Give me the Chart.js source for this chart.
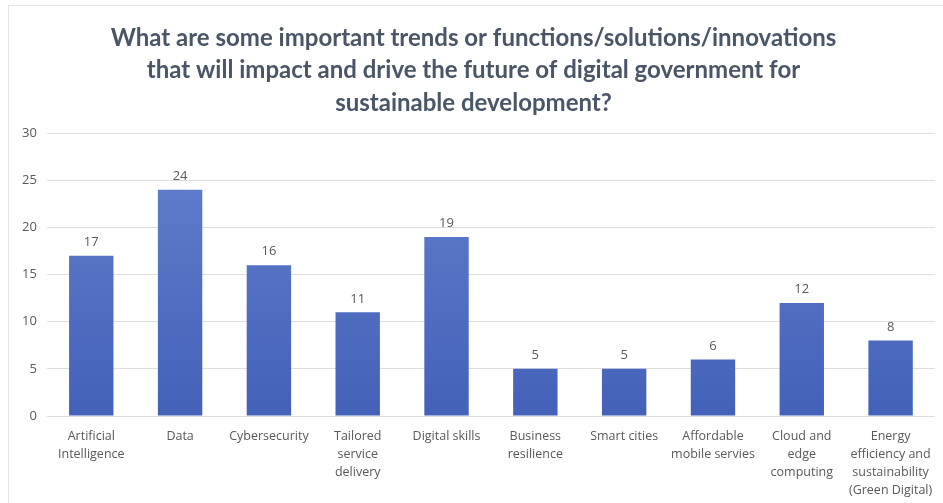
<!DOCTYPE html>
<html><head><meta charset="utf-8">
<script src="https://cdn.jsdelivr.net/npm/chart.js@4"></script>
<style>
html,body{margin:0;padding:0;background:#fff;}
#wrap{position:absolute;left:8px;top:5px;width:935px;height:498px;border-left:1px solid #e4e4e4;border-top:1px solid #e4e4e4;box-sizing:border-box;}
canvas{position:absolute;left:0;top:0;}
</style></head>
<body>
<div id="wrap"></div>
<canvas id="c" width="943" height="503"></canvas>
<script>
const titleLines = ["What are some important trends or functions/solutions/innovations","that will impact and drive the future of digital government for","sustainable development?"];
const categories = [["Artificial","Intelligence"],"Data","Cybersecurity",["Tailored","service","delivery"],"Digital skills",["Business","resilience"],"Smart cities",["Affordable","mobile servies"],["Cloud and","edge","computing"],["Energy","efficiency and","sustainability","(Green Digital)"]];
const values = [17,24,16,11,19,5,5,6,12,8];
const yTicks = [0,5,10,15,20,25,30];

const labelPlugin = {
  id:'vals',
  afterDatasetsDraw(chart){
    const ctx = chart.ctx;
    const meta = chart.getDatasetMeta(0);
    ctx.save();
    ctx.fillStyle = '#595959';
    ctx.font = '13px "Open Sans", sans-serif';
    ctx.textAlign = 'center';
    ctx.textBaseline = 'bottom';
    meta.data.forEach((el,i)=>{
      ctx.fillText(String(values[i]), el.x, el.y - 7);
    });
    ctx.restore();
  }
};

new Chart(document.getElementById('c'), {
  type:'bar',
  data:{labels:categories, datasets:[{
    data:values,
    backgroundColor:(c)=>{
      const ca = c.chart.chartArea;
      if(!ca) return '#5470c6';
      const g = c.chart.ctx.createLinearGradient(0, ca.top, 0, ca.bottom);
      g.addColorStop(0,'#6480d0');
      g.addColorStop(1,'#4361b8');
      return g;
    },
    borderWidth:0,
    barPercentage:0.5,
    categoryPercentage:1.0
  }]},
  options:{
    responsive:false,
    animation:false,
    layout:{padding:{left:12,right:8,top:0,bottom:0}},
    plugins:{
      legend:{display:false},
      tooltip:{enabled:false},
      title:{display:true,text:titleLines,color:'#4a5566',
        font:{family:'Lato, "Open Sans", sans-serif',size:24,weight:'bold',lineHeight:1.35},
        padding:{top:22,bottom:14}}
    },
    scales:{
      x:{grid:{display:false},border:{display:false},
        ticks:{color:'#595959',font:{family:'"Open Sans", sans-serif',size:12.5,lineHeight:1.42},maxRotation:0,autoSkip:false,padding:4}},
      y:{min:0,max:30,afterBuildTicks:(ax)=>{ax.ticks=yTicks.map(v=>({value:v}));},
        grid:{color:'#dedede',lineWidth:1,drawTicks:false},border:{display:false},
        ticks:{color:'#595959',font:{family:'"Open Sans", sans-serif',size:13},padding:10}}
    }
  },
  plugins:[labelPlugin]
});
</script>
</body></html>
